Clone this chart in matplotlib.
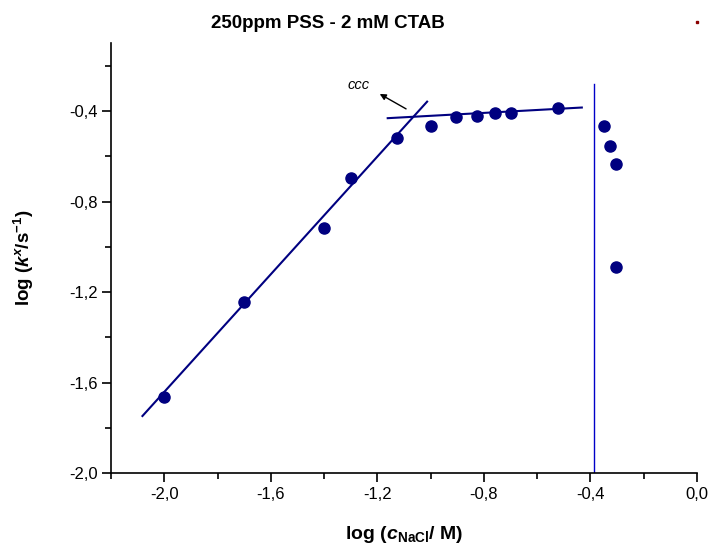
import numpy as np
import matplotlib
matplotlib.use("Agg")
import matplotlib.pyplot as plt
from matplotlib.ticker import MultipleLocator, FuncFormatter

plt.rcParams['font.family'] = ['Liberation Sans', 'DejaVu Sans']
plt.rcParams['mathtext.fontset'] = 'custom'
plt.rcParams['mathtext.rm'] = 'Liberation Sans'
plt.rcParams['mathtext.it'] = 'Liberation Sans:italic'
plt.rcParams['mathtext.bf'] = 'Liberation Sans:bold'
plt.rcParams['mathtext.bfit'] = 'Liberation Sans:bold:italic'

# measured points: log(c NaCl / M) vs log(k / s^-1)
log_c = [-2.0, -1.70, -1.40, -1.30, -1.125, -1.0, -0.903, -0.824, -0.757,
         -0.699, -0.523, -0.350, -0.327, -0.304, -0.304]
log_k = [-1.662, -1.243, -0.917, -0.696, -0.520, -0.466, -0.426, -0.422,
         -0.410, -0.409, -0.385, -0.465, -0.554, -0.635, -1.090]

# fitted lines (end points)
fit1_x = [-2.082, -1.013]
fit1_y = [-1.747, -0.359]
fit2_x = [-1.161, -0.432]
fit2_y = [-0.432, -0.385]

# vertical marker line
vline_x = -0.386
vline_y = [-2.0, -0.282]

# ccc annotation
ccc_tail = (-1.092, -0.391)
ccc_head = (-1.191, -0.325)
ccc_text = (-1.27, -0.285)

xticks = [-2.0, -1.6, -1.2, -0.8, -0.4, 0.0]
yticks = [-2.0, -1.6, -1.2, -0.8, -0.4]

navy = '#000080'

fig = plt.figure(figsize=(7.14, 5.51), dpi=100)
ax = fig.add_axes([0.1555, 0.141, 0.8205, 0.781])

ax.plot(fit1_x, fit1_y, color=navy, lw=1.5)
ax.plot(fit2_x, fit2_y, color=navy, lw=1.5)
ax.plot([vline_x, vline_x], vline_y, color='#0000c8', lw=1.0)
ax.plot(log_c, log_k, 'o', color=navy, ms=8, mec=navy)

ax.annotate('', xy=ccc_head, xytext=ccc_tail,
            arrowprops=dict(arrowstyle='-|>', color='black', lw=1.0,
                            mutation_scale=9, shrinkA=0, shrinkB=0))
ax.text(ccc_text[0], ccc_text[1], 'ccc', style='italic', fontsize=10.5,
        ha='center', va='center')

# stray dot above the plot, top right
ax.plot([0.0], [-0.007], 's', color='#8b0000', ms=1.5, clip_on=False)

ax.set_xlim(-2.2, 0.0)
ax.set_ylim(-2.0, -0.1)
ax.set_xticks(xticks)
ax.set_yticks(yticks)
ax.xaxis.set_minor_locator(MultipleLocator(0.2))
ax.yaxis.set_minor_locator(MultipleLocator(0.2))
fmt = FuncFormatter(lambda v, p: ('%.1f' % v).replace('.', ',').replace('-0,0', '0,0'))
ax.xaxis.set_major_formatter(fmt)
ax.yaxis.set_major_formatter(fmt)

for s in ['top', 'right']:
    ax.spines[s].set_visible(False)
for s in ['left', 'bottom']:
    ax.spines[s].set_linewidth(1.2)
ax.tick_params(which='major', direction='out', length=6.5, width=1.2,
               labelsize=12, pad=3)
ax.tick_params(which='minor', direction='out', length=4, width=1.2)

ax.set_xlabel(r'$\mathbf{log\ (}\boldsymbol{c}_{\mathbf{NaCl}}\mathbf{/\ M)}$',
              fontsize=14, labelpad=16)
ax.set_ylabel(r'$\mathbf{log\ (}\boldsymbol{k}^{\boldsymbol{x}}\mathbf{/s}^{\mathbf{-1}}\mathbf{)}$',
              fontsize=13.5, labelpad=24)

fig.text(328 / 714, 1 - 23 / 551, '250ppm PSS - 2 mM CTAB', fontsize=13.5,
         fontweight='bold', ha='center', va='center')

fig.savefig('out.png', dpi=100)
